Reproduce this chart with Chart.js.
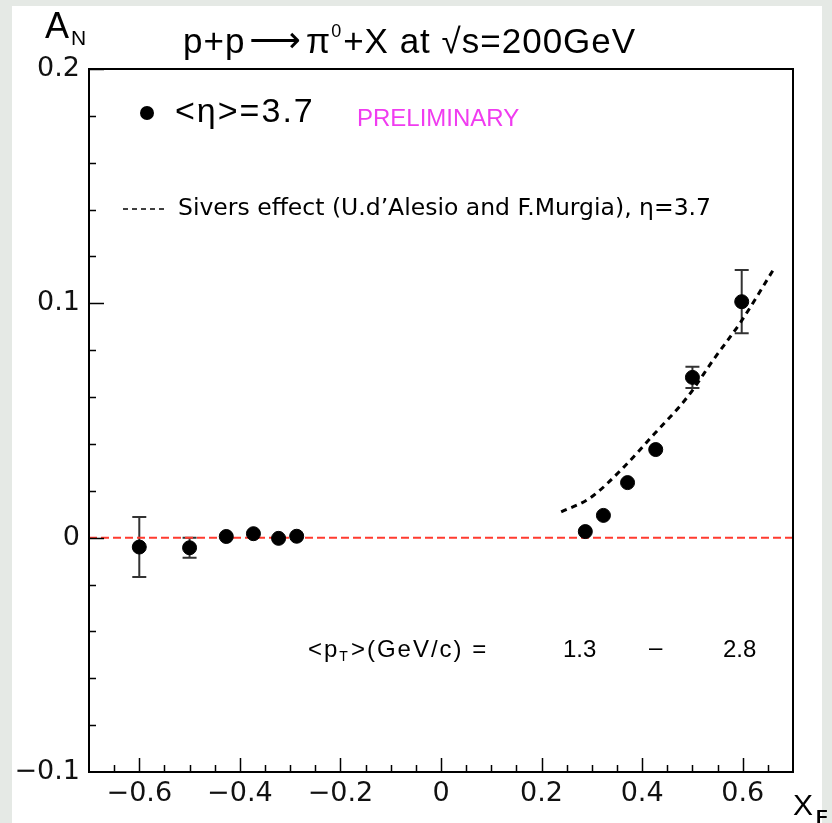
<!DOCTYPE html>
<html>
<head>
<meta charset="utf-8">
<script src="https://cdn.jsdelivr.net/npm/chart.js@4.4.1/dist/chart.umd.min.js"></script>
<style>
  html, body { margin: 0; padding: 0; }
  body { width: 832px; height: 823px; background: #e5e9e5; position: relative; overflow: hidden; }
  #panel { position: absolute; left: 12px; top: 6px; width: 810px; height: 817px; background: #fff; }
  #wrap { position: absolute; left: 0; top: 0; width: 832px; height: 823px; }
</style>
</head>
<body>
<div id="panel"></div>
<div id="wrap"><canvas id="chart" width="832" height="823"></canvas></div>
<script>
// measured points, <eta>=3.7
var dataX = [-0.6, -0.5, -0.427, -0.373, -0.323, -0.287, 0.287, 0.323, 0.371, 0.427, 0.50, 0.598];
var dataY = [-0.004, -0.0043, 0.0005, 0.0017, -0.0003, 0.0006, 0.0026, 0.0095, 0.0235, 0.0376, 0.0684, 0.1007];
var errY  = [0.0128, 0.0043, 0.001, 0.001, 0.001, 0.001, 0.001, 0.001, 0.001, 0.001, 0.0045, 0.0135];

// Sivers effect curve (d'Alesio, Murgia)
var siversX = [0.239, 0.297, 0.363, 0.423, 0.490, 0.542, 0.596, 0.660];
var siversY = [0.011, 0.017, 0.030, 0.044, 0.060, 0.076, 0.092, 0.114];

// axes
var xRange = [-0.7, 0.7];
var yRange = [-0.1, 0.2];
var xTickLabels = [-0.6, -0.4, -0.2, 0, 0.2, 0.4, 0.6];
var yTickLabels = [-0.1, 0, 0.1, 0.2];
var xMinorStep = 0.05;
var yMinorStep = 0.02;

function fmt(v) {
	if (Math.abs(v) < 1e-9) return "0";
	return (v < 0 ? "\u2212" : "") + Math.abs(v).toFixed(1);
}

var points = [];
for (var i = 0; i < dataX.length; i++) points.push({ x: dataX[i], y: dataY[i] });
var curve = [];
for (var i = 0; i < siversX.length; i++) curve.push({ x: siversX[i], y: siversY[i] });

var errorBars = {
	id: 'errorBars',
	beforeDatasetsDraw: function (chart) {
		var ctx = chart.ctx, xs = chart.scales.x, ys = chart.scales.y;
		ctx.save();
		ctx.strokeStyle = '#333';
		ctx.lineWidth = 2;
		for (var i = 0; i < dataX.length; i++) {
			var px = xs.getPixelForValue(dataX[i]);
			var top = ys.getPixelForValue(dataY[i] + errY[i]);
			var bot = ys.getPixelForValue(dataY[i] - errY[i]);
			var mid = ys.getPixelForValue(dataY[i]);
			if (mid - top < 9) continue;
			ctx.beginPath();
			ctx.moveTo(px, top); ctx.lineTo(px, bot);
			ctx.moveTo(px - 7, top); ctx.lineTo(px + 7, top);
			ctx.moveTo(px - 7, bot); ctx.lineTo(px + 7, bot);
			ctx.stroke();
		}
		ctx.restore();
	}
};

var frame = {
	id: 'frame',
	afterDraw: function (chart) {
		var ctx = chart.ctx, a = chart.chartArea, xs = chart.scales.x, ys = chart.scales.y;
		ctx.save();
		ctx.strokeStyle = '#000';
		ctx.lineWidth = 2;
		ctx.strokeRect(a.left, a.top, a.right - a.left, a.bottom - a.top);

		// ticks
		ctx.lineWidth = 1.5;
		ctx.beginPath();
		for (var v = -0.65; v < 0.7; v += xMinorStep) {
			var px = Math.round(xs.getPixelForValue(v)) + 0.5;
			var major = Math.abs(Math.round(v * 5) - v * 5) < 1e-6;
			ctx.moveTo(px, a.bottom);
			ctx.lineTo(px, a.bottom - (major ? 14 : 7));
		}
		for (var v = -0.08; v < 0.2; v += yMinorStep) {
			var py = Math.round(ys.getPixelForValue(v)) + 0.5;
			var major = Math.abs(Math.round(v * 10) - v * 10) < 1e-6;
			ctx.moveTo(a.left, py);
			ctx.lineTo(a.left + (major ? 15 : 7), py);
		}
		ctx.stroke();

		ctx.fillStyle = '#111';
		ctx.font = '27px "DejaVu Sans"';
		ctx.textAlign = 'center';
		ctx.textBaseline = 'middle';
		xTickLabels.forEach(function (v) {
			ctx.fillText(fmt(v), xs.getPixelForValue(v), a.bottom + 22);
		});
		ctx.textAlign = 'right';
		yTickLabels.forEach(function (v) {
			ctx.fillText(fmt(v), a.left - 9, ys.getPixelForValue(v));
		});

		// axis titles
		ctx.fillStyle = '#000';
		ctx.textAlign = 'left';
		ctx.textBaseline = 'alphabetic';
		ctx.font = '36px "Liberation Sans"';
		ctx.fillText('A', 45, 38);
		ctx.font = '21px "Liberation Sans"';
		ctx.fillText('N', 71, 45);
		ctx.font = '30px "Liberation Sans"';
		ctx.fillText('X', 793, 815);
		ctx.font = 'bold 19px "Liberation Sans"';
		ctx.fillText('F', 816, 823);

		// title
		ctx.letterSpacing = '1px';
		ctx.font = '35px "Liberation Sans"';
		var x0 = 183;
		ctx.fillText('p+p', x0, 53);
		x0 += ctx.measureText('p+p').width + 4;
		ctx.font = '36px "DejaVu Sans"';
		ctx.fillText('\u27f6', x0, 52);
		x0 += ctx.measureText('\u27f6').width + 4;
		ctx.font = '35px "Liberation Sans"';
		ctx.fillText('\u03c0', x0, 53);
		x0 += ctx.measureText('\u03c0').width;
		ctx.font = '18px "Liberation Sans"';
		ctx.fillText('0', x0, 37);
		x0 += ctx.measureText('0').width + 1;
		ctx.font = '35px "Liberation Sans"';
		ctx.fillText('+X at \u221as=200GeV', x0, 53);

		// legend
		ctx.letterSpacing = '0px';
		ctx.beginPath();
		ctx.arc(147, 113, 7, 0, Math.PI * 2);
		ctx.fill();
		ctx.font = '34px "Liberation Sans"';
		ctx.letterSpacing = '2px';
		ctx.textBaseline = 'middle';
		ctx.fillText('<\u03b7>=3.7', 175, 113);
		ctx.letterSpacing = '0px';
		ctx.fillStyle = '#f03cf0';
		ctx.font = '24px "Liberation Sans"';
		ctx.fillText('PRELIMINARY', 357, 119);

		ctx.fillStyle = '#000';
		ctx.strokeStyle = '#000';
		ctx.lineWidth = 1.5;
		ctx.setLineDash([5, 4]);
		ctx.beginPath();
		ctx.moveTo(123, 209); ctx.lineTo(168, 209);
		ctx.stroke();
		ctx.setLineDash([]);
		ctx.font = '23.5px "DejaVu Sans"';
		ctx.fillText('Sivers effect (U.d\u2019Alesio and F.Murgia), \u03b7=3.7', 178, 209);

		// pT range
		ctx.font = '24px "Liberation Sans"';
		ctx.letterSpacing = '2px';
		var xx = 308;
		ctx.fillText('<p', xx, 650);
		xx += ctx.measureText('<p').width;
		ctx.font = '14px "Liberation Sans"';
		ctx.fillText('T', xx, 657);
		xx += ctx.measureText('T').width + 1;
		ctx.font = '24px "Liberation Sans"';
		ctx.fillText('>(GeV/c) =', xx, 650);
		ctx.letterSpacing = '0px';
		ctx.fillText('1.3', 563, 650);
		ctx.fillText('\u2013', 649, 648);
		ctx.fillText('2.8', 723, 650);
		ctx.restore();
	}
};

new Chart(document.getElementById('chart'), {
	type: 'scatter',
	data: {
		datasets: [
			{
				label: '<eta>=3.7',
				data: points,
				backgroundColor: '#000',
				borderColor: '#000',
				pointRadius: 7,
				pointHoverRadius: 7,
				order: 0
			},
			{
				label: 'Sivers effect',
				data: curve,
				showLine: true,
				borderColor: '#000',
				borderWidth: 3,
				borderDash: [6, 5],
				pointRadius: 0,
				cubicInterpolationMode: 'monotone',
				order: 1
			},
			{
				label: 'zero',
				data: [{ x: xRange[0], y: 0 }, { x: xRange[1], y: 0 }],
				showLine: true,
				borderColor: '#ff3b2f',
				borderWidth: 2,
				borderDash: [8, 4],
				pointRadius: 0,
				order: 2
			}
		]
	},
	options: {
		responsive: false,
		animation: false,
		events: [],
		layout: { padding: { left: 89, top: 69, right: 39, bottom: 51 } },
		scales: {
			x: { type: 'linear', min: xRange[0], max: xRange[1], display: false },
			y: { type: 'linear', min: yRange[0], max: yRange[1], display: false }
		},
		plugins: {
			legend: { display: false },
			title: { display: false },
			tooltip: { enabled: false }
		}
	},
	plugins: [errorBars, frame]
});
</script>
</body>
</html>
